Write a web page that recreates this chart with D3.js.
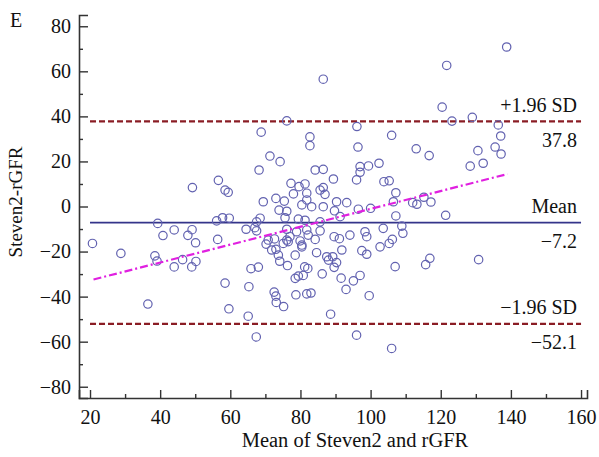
<!DOCTYPE html>
<html>
<head>
<meta charset="utf-8">
<script src="https://cdn.jsdelivr.net/npm/d3@7"></script>
<style>
  html, body { margin: 0; padding: 0; background: #ffffff; }
  svg { display: block; }
  text { font-family: "Liberation Serif", "Times New Roman", serif; fill: #111111; }
</style>
</head>
<body>
<svg id="chart" width="599" height="457"></svg>
<script>
// Bland–Altman agreement: Steven2 vs rGFR
const meanValues = [
  86.5, 76.1, 68.8, 82.7, 82.7, 96.1, 96.4, 106.0, 138.8, 121.7,
  120.4, 123.2, 129.0, 136.4, 137.1, 113.0, 130.6, 135.5, 116.7, 137.2,
  132.1, 128.4, 102.4, 103.8, 105.3, 107.2, 106.5, 112.0, 113.2, 115.2,
  117.2, 107.2, 121.4, 103.6, 108.9, 109.2, 106.2, 105.3, 102.7, 116.9,
  115.7, 130.8, 107.0, 106.0, 49.0, 50.2, 58.5, 65.9, 68.0, 65.3,
  59.6, 65.1, 67.4, 74.1, 76.3, 72.5, 73.0, 73.1, 75.2, 78.5,
  79.4, 80.8, 81.2, 82.1, 78.7, 81.8, 83.0, 86.2, 88.0, 90.3,
  89.6, 91.6, 93.0, 95.1, 97.0, 88.6, 96.0, 99.6, 20.7, 28.8,
  39.3, 40.8, 44.0, 47.9, 49.1, 50.1, 56.1, 56.4, 38.5, 39.1,
  44.0, 46.4, 36.5, 49.2, 56.6, 71.3, 74.2, 68.2, 84.2, 86.5,
  97.0, 99.4, 97.0, 96.0, 89.4, 58.5, 59.4, 77.3, 79.6, 81.3,
  78.0, 81.8, 85.6, 86.5, 87.0, 69.4, 73.0, 75.4, 73.9, 76.1,
  80.4, 83.2, 81.8, 86.5, 90.3, 93.2, 89.7, 96.5, 100.0, 57.8,
  59.7, 68.5, 67.5, 75.6, 79.4, 81.3, 85.6, 91.3, 64.5, 67.0,
  67.5, 76.1, 78.9, 81.8, 85.6, 72.6, 70.8, 76.1, 77.0, 79.9,
  80.4, 82.2, 84.2, 89.6, 91.1, 94.1, 98.4, 98.9, 70.2, 71.8,
  73.0, 73.7, 75.1, 76.5, 78.5, 80.4, 84.6, 87.5, 89.2, 91.8,
  97.5, 98.9
];
const diffValues = [
  56.5, 38.0, 33.0, 30.9, 27.0, 35.5, 26.4, 31.6, 70.8, 62.6,
  44.1, 37.9, 39.6, 36.2, 31.3, 25.6, 24.8, 26.4, 22.6, 23.3,
  19.2, 17.9, 19.2, 11.0, 11.4, 6.1, 2.1, 1.7, 1.0, 4.1,
  2.0, -4.2, -3.9, -9.7, -8.7, -11.9, -14.6, -16.4, -17.9, -23.0,
  -25.8, -23.6, -26.7, -63.0, -26.8, -24.4, -34.0, -27.6, -26.9, -35.6,
  -45.4, -48.7, -57.9, -24.3, -26.2, -38.0, -39.8, -42.6, -44.4, -31.9,
  -30.9, -30.6, -26.8, -27.5, -39.2, -38.8, -38.4, -29.9, -23.8, -24.9,
  -27.0, -31.8, -36.8, -33.0, -30.6, -47.8, -57.1, -39.6, -16.4, -20.8,
  -7.5, -12.9, -10.4, -12.8, -10.3, -16.1, -6.4, -14.6, -21.9, -24.2,
  -26.8, -23.6, -43.3, 8.4, 11.6, 22.4, 19.9, 16.2, 16.2, 16.5,
  17.7, 18.0, 15.2, 11.8, 12.2, 7.3, 6.3, 10.3, 8.8, 10.0,
  5.6, 5.9, 7.3, 8.4, 5.4, 2.1, 3.6, 2.4, -1.6, -2.1,
  0.7, -0.1, 2.9, -0.1, 2.1, 1.7, -1.9, -1.2, -0.8, -5.0,
  -5.2, -5.2, -6.8, -5.0, -5.6, -6.1, -6.8, -4.5, -10.1, -9.4,
  -10.8, -10.1, -11.2, -10.4, -10.8, -14.4, -14.9, -14.9, -13.4, -15.3,
  -17.1, -12.7, -14.6, -13.4, -14.3, -12.7, -11.2, -13.4, -16.7, -19.3,
  -19.0, -21.6, -16.4, -15.6, -21.6, -17.9, -20.5, -22.3, -22.3, -19.3,
  -19.6, -21.2
];

// Reference lines: bias and limits of agreement
const refValues = [37.8, -7.2, -52.1];
const refNames = ["+1.96 SD", "Mean", "\u22121.96 SD"];
const refLabels = ["37.8", "\u22127.2", "\u221252.1"];

// Regression of difference on mean (end points)
const trendX = [21, 139];
const trendY = [-32.4, 14.4];

const xTicks = [20, 40, 60, 80, 100, 120, 140, 160];
const yTicks = [-80, -60, -40, -20, 0, 20, 40, 60, 80];
const xMinor = [30, 50, 70, 90, 110, 130, 150];
const yMinor = [-70, -50, -30, -10, 10, 30, 50, 70];

const svg = d3.select("#chart");

const x = d3.scaleLinear().domain([16.86, 161.7]).range([79, 587]);
const y = d3.scaleLinear().domain([-85, 85]).range([398, 15]);

const fmt = v => (v < 0 ? "\u2212" + Math.abs(v) : String(v));

// Minor ticks
const gMinorX = svg.append("g").attr("transform", "translate(0,398)")
  .call(d3.axisBottom(x).tickValues(xMinor).tickSize(-4).tickFormat(""));
const gMinorY = svg.append("g").attr("transform", "translate(79,0)")
  .call(d3.axisLeft(y).tickValues(yMinor).tickSize(-4).tickFormat(""));

// Major axes
const gx = svg.append("g").attr("transform", "translate(0,398)")
  .call(d3.axisBottom(x).tickValues(xTicks).tickSize(-8).tickPadding(12).tickFormat(fmt));
const gy = svg.append("g").attr("transform", "translate(79,0)")
  .call(d3.axisLeft(y).tickValues(yTicks).tickSize(-9).tickPadding(8).tickFormat(fmt));

[gMinorX, gMinorY, gx, gy].forEach(g => {
  g.selectAll("path.domain").attr("stroke", "#333").attr("stroke-width", 1.6);
  g.selectAll(".tick line").attr("stroke", "#333").attr("stroke-width", 1.4);
  g.selectAll(".tick text").style("font-family", "'Liberation Serif', serif")
    .style("font-size", "20px").attr("fill", "#111111");
});
[gMinorX, gMinorY].forEach(g => g.select("path.domain").remove());

// Reference lines
const refStyles = [
  { stroke: "#8a1c24", dash: "6,3", width: 2.2 },
  { stroke: "#34348a", dash: null, width: 1.8 },
  { stroke: "#8a1c24", dash: "6,3", width: 2.2 }
];
refValues.forEach((v, i) => {
  svg.append("line")
    .attr("x1", x(20)).attr("x2", x(160))
    .attr("y1", y(v)).attr("y2", y(v))
    .attr("stroke", refStyles[i].stroke)
    .attr("stroke-width", refStyles[i].width)
    .attr("stroke-dasharray", refStyles[i].dash);
});

// Points
svg.append("g").selectAll("circle")
  .data(meanValues.map((m, i) => [m, diffValues[i]]))
  .join("circle")
  .attr("cx", d => x(d[0]))
  .attr("cy", d => y(d[1]))
  .attr("r", 4.2)
  .attr("fill", "none")
  .attr("stroke", "#6262b0")
  .attr("stroke-width", 1.2);

// Trend line
svg.append("line")
  .attr("x1", x(trendX[0])).attr("y1", y(trendY[0]))
  .attr("x2", x(trendX[1])).attr("y2", y(trendY[1]))
  .attr("stroke", "#e020e0")
  .attr("stroke-width", 2.2)
  .attr("stroke-dasharray", "8,3,2,3");

// Reference labels
const labelX = 577;
refValues.forEach((v, i) => {
  svg.append("text").attr("x", labelX).attr("y", y(v) - 9.5)
    .attr("text-anchor", "end").style("font-size", "20px").text(refNames[i]);
  svg.append("text").attr("x", labelX).attr("y", y(v) + 25.5)
    .attr("text-anchor", "end").style("font-size", "20px").text(refLabels[i]);
});

// Axis titles and panel letter
svg.append("text").attr("x", 355).attr("y", 447)
  .attr("text-anchor", "middle").style("font-size", "20.5px")
  .text("Mean of Steven2 and rGFR");
svg.append("text")
  .attr("transform", "translate(22,202) rotate(-90)")
  .attr("text-anchor", "middle").style("font-size", "19px")
  .text("Steven2-rGFR");
svg.append("text").attr("x", 10).attr("y", 27).style("font-size", "20px").text("E");
</script>
</body>
</html>
